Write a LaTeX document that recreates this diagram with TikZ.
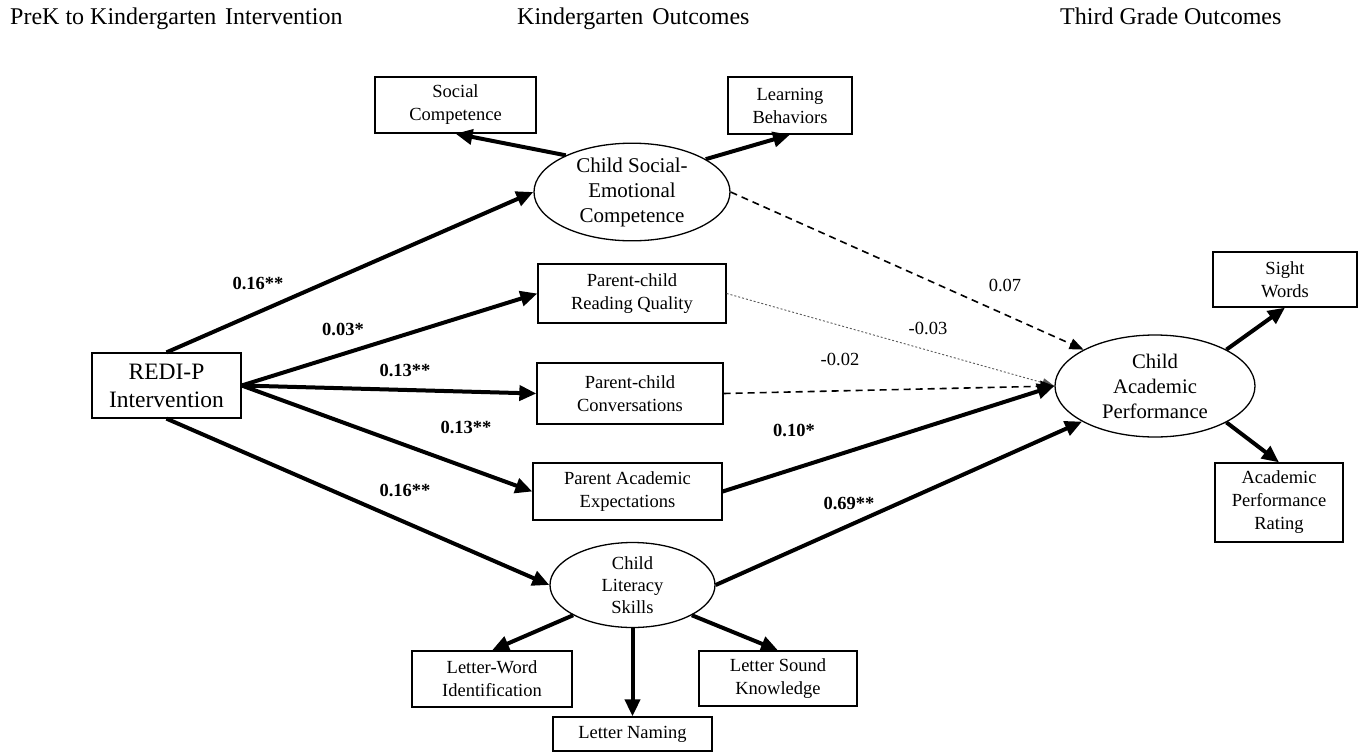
\documentclass[tikz,border=0pt]{standalone}
\usepackage{fontspec}
\setmainfont{Liberation Serif}
\usetikzlibrary{arrows.meta,shapes.geometric}
\tikzset{
  box/.style={draw, line width=1.3pt, align=center, inner sep=0pt,
    font=\fontsize{18.5}{23}\selectfont},
  lat/.style={draw, ellipse, line width=1.3pt, inner sep=0pt, align=center},
  hdr/.style={anchor=base west, inner sep=0pt, font=\fontsize{24}{28}\selectfont},
  sig/.style={inner sep=0pt, font=\fontsize{18.5}{22}\selectfont\bfseries},
  nsig/.style={inner sep=0pt, font=\fontsize{18.5}{22}\selectfont},
  pathsolid/.style={line width=4pt, -{Triangle[length=17pt,width=15pt]}},
  pathdash/.style={line width=1.6pt, dash pattern=on 7pt off 5pt, -{Triangle[length=14pt,width=11pt]}},
  pathdot/.style={line width=0.9pt, gray!70!black, dash pattern=on 2pt off 2pt, -{Triangle[length=12pt,width=9pt]}},
}
\begin{document}
\begin{tikzpicture}[x=1pt,y=-1pt]
\useasboundingbox (0,0) rectangle (1369,753);
% headers
\node[hdr] (h1) at (10,24) {PreK to Kindergarten\hspace{0.12em} Intervention};
\node[hdr] (h2) at (517,24) {Kindergarten\hspace{0.12em} Outcomes};
\node[hdr] (h3) at (1060,24) {Third Grade Outcomes};
% nodes
\node[box, minimum width=149pt, minimum height=65pt, font=\fontsize{23.5}{28}\selectfont] (redi) at (166.5,385.5) {REDI-P\\Intervention};
\node[lat, minimum width=196pt, minimum height=80pt, font=\fontsize{21}{25}\selectfont] (sec) at (632,192) {Child Social-\\Emotional\\Competence};
\node[box, minimum width=161pt, minimum height=56pt] (soc) at (455.5,105) {Social\\Competence};
\node[box, minimum width=124pt, minimum height=57pt] (lb) at (790,105.5) {Learning\\Behaviors};
\node[box, minimum width=188pt, minimum height=59pt] (prq) at (632,293.5) {Parent-child\\Reading Quality};
\node[box, minimum width=186pt, minimum height=61pt] (pcc) at (630,393.5) {Parent-child\\Conversations};
\node[box, minimum width=189pt, minimum height=57pt] (pae) at (627.5,491.5) {Parent Academic\\Expectations};
\node[lat, minimum width=165pt, minimum height=85pt, font=\fontsize{18.5}{22}\selectfont] (cls) at (632.5,585) {Child\\Literacy\\Skills};
\node[box, minimum width=160pt, minimum height=56pt] (lwi) at (492,679) {Letter-Word\\Identification};
\node[box, minimum width=159pt, minimum height=34pt] (ln) at (632.5,734) {Letter Naming};
\node[box, minimum width=158pt, minimum height=55pt] (lsk) at (778,678.5) {Letter Sound\\Knowledge};
\node[lat, minimum width=200pt, minimum height=102pt, font=\fontsize{20.7}{25}\selectfont] (cap) at (1155,386) {Child\\Academic\\Performance};
\node[box, minimum width=144pt, minimum height=55pt] (sw) at (1285,279.5) {Sight\\Words};
\node[box, minimum width=128pt, minimum height=79pt] (apr) at (1279,502.5) {Academic\\Performance\\Rating};
% connectors
\draw[pathsolid] (redi.north) -- (sec.west);
\draw[pathsolid] (redi.east) -- (prq.west);
\draw[pathsolid] (redi.east) -- (pcc.west);
\draw[pathsolid] (redi.east) -- (pae.west);
\draw[pathsolid] (redi.south) -- (cls.west);
\draw[pathsolid] (sec.151) -- (soc.south);
\draw[pathsolid] (sec.24) -- (lb.south);
\draw[pathsolid] (cls.207) -- (lwi.north);
\draw[pathsolid] (cls.south) -- (ln.north);
\draw[pathsolid] (cls.333) -- (lsk.north);
\draw[pathsolid] (cap.27) -- (sw.south);
\draw[pathsolid] (cap.333) -- (apr.north);
\draw[pathdash] (sec.east) -- (cap.153);
\draw[pathdot] (prq.east) -- (cap.west);
\draw[pathdash] (pcc.east) -- (cap.west);
\draw[pathsolid] (pae.east) -- (cap.west);
\draw[pathsolid] (cls.east) -- (cap.206);
% labels
\node[sig] (l1) at (258,283) {0.16**};
\node[sig] (l2) at (343,329) {0.03*};
\node[sig] (l3) at (405,370) {0.13**};
\node[sig] (l4) at (466,427) {0.13**};
\node[sig] (l5) at (405,490) {0.16**};
\node[nsig] (l6) at (1005,285) {0.07};
\node[nsig] (l7) at (928,328) {-0.03};
\node[nsig] (l8) at (840,359) {-0.02};
\node[sig] (l9) at (794,430) {0.10*};
\node[sig] (l10) at (849,503) {0.69**};
\end{tikzpicture}
\end{document}
